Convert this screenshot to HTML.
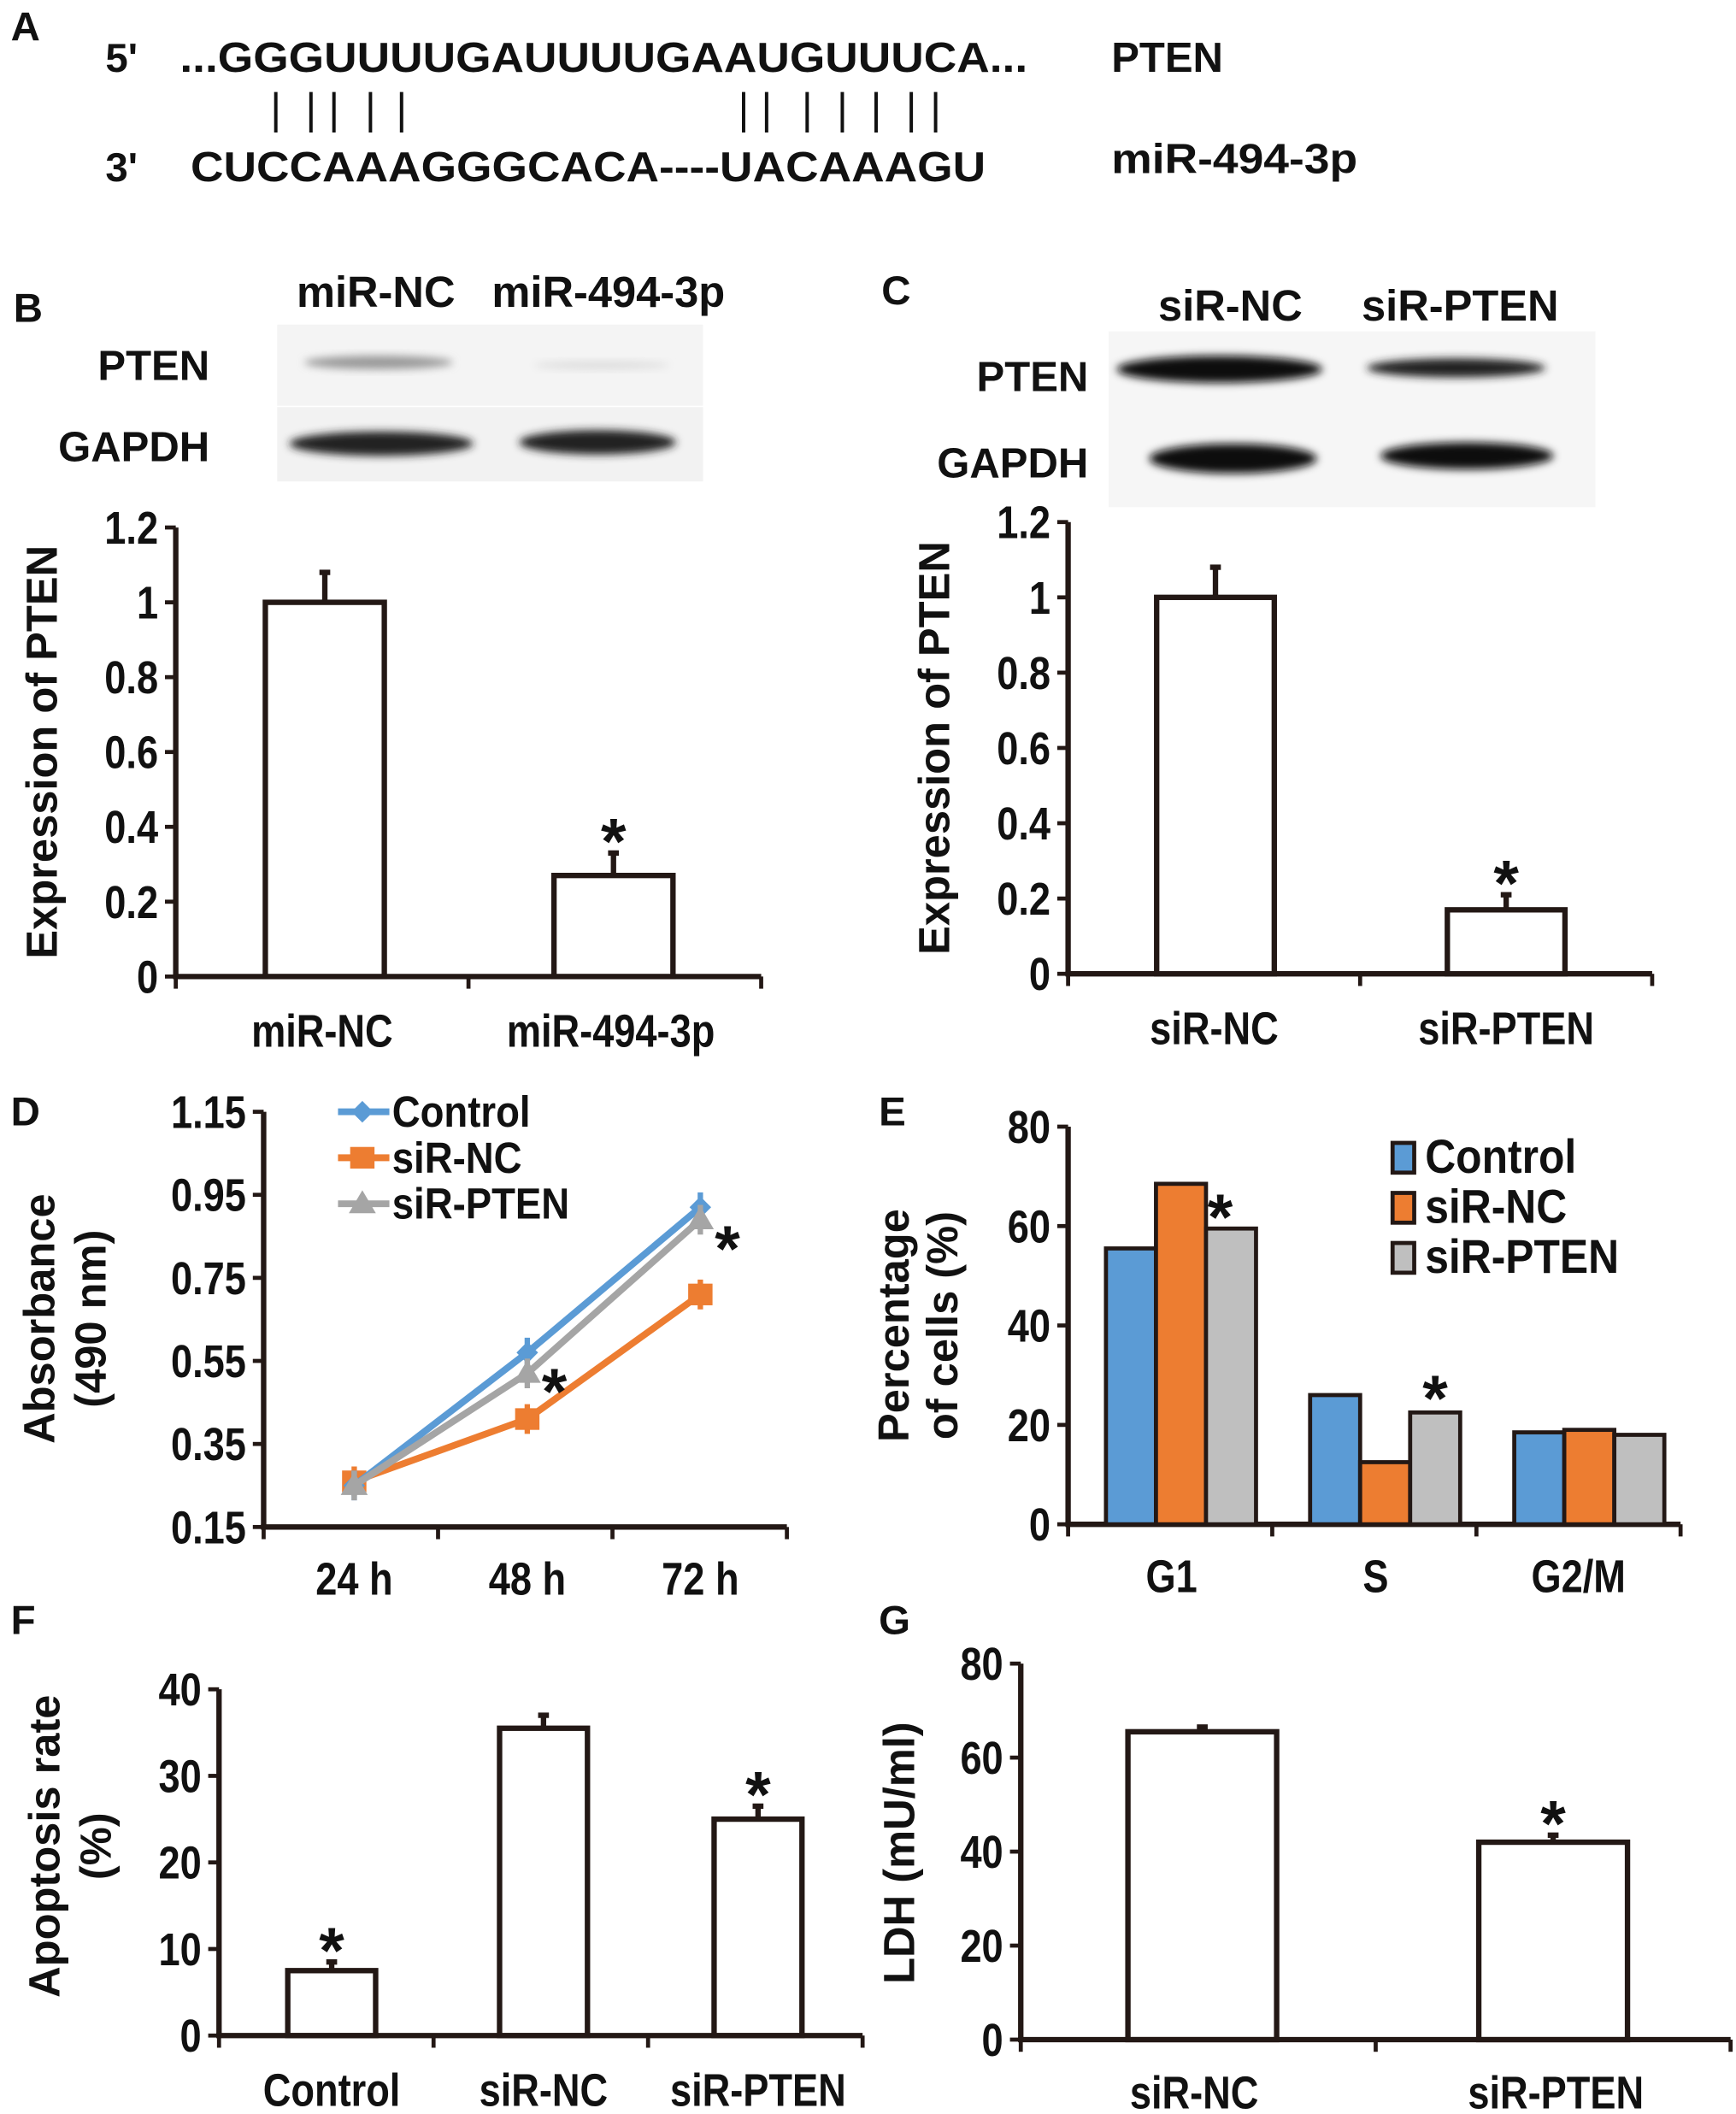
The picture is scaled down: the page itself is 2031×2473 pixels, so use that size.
<!DOCTYPE html>
<html><head><meta charset="utf-8"><style>
html,body{margin:0;padding:0;background:#fff}
svg{display:block}
text{font-family:"Liberation Sans",Arial,sans-serif;font-weight:bold;fill:#111}
</style></head><body>
<svg id="fig" xmlns="http://www.w3.org/2000/svg" width="2031" height="2473" viewBox="0 0 1284 1563" preserveAspectRatio="none">
<defs>
<filter id="blur" x="-20%" y="-50%" width="140%" height="200%"><feGaussianBlur stdDeviation="3"/></filter>
</defs>
<g>
<text x="8" y="30" font-size="30">A</text>
<text x="78" y="53" font-size="30">5'</text>
<text x="133" y="53" font-size="31" textLength="627" lengthAdjust="spacingAndGlyphs">...GGGUUUUGAUUUUGAAUGUUUCA...</text>
<text x="822" y="53" font-size="31">PTEN</text>
<text x="78" y="134" font-size="30">3'</text>
<text x="141" y="134" font-size="31" textLength="588" lengthAdjust="spacingAndGlyphs">CUCCAAAGGGCACA----UACAAAGU</text>
<text x="822" y="128" font-size="31" textLength="182" lengthAdjust="spacingAndGlyphs">miR-494-3p</text>
<g stroke="#111" stroke-width="2.5">
<line x1="204" y1="68" x2="204" y2="98"/><line x1="230" y1="68" x2="230" y2="98"/><line x1="247" y1="68" x2="247" y2="98"/><line x1="274" y1="68" x2="274" y2="98"/><line x1="297" y1="68" x2="297" y2="98"/>
<line x1="550" y1="68" x2="550" y2="98"/><line x1="567" y1="68" x2="567" y2="98"/><line x1="597" y1="68" x2="597" y2="98"/><line x1="623" y1="68" x2="623" y2="98"/><line x1="648" y1="68" x2="648" y2="98"/><line x1="674" y1="68" x2="674" y2="98"/><line x1="692" y1="68" x2="692" y2="98"/>
</g>
</g>
<g>
<text x="10" y="238" font-size="30">B</text>
<text x="278" y="227" font-size="32" text-anchor="middle">miR-NC</text>
<text x="450" y="227" font-size="32" text-anchor="middle">miR-494-3p</text>
<rect x="205" y="240" width="315" height="60" fill="#f4f4f4"/>
<rect x="205" y="301" width="315" height="55" fill="#f2f2f2"/>
<text x="155" y="281" font-size="31" text-anchor="end">PTEN</text>
<text x="155" y="341" font-size="31" text-anchor="end">GAPDH</text>
<ellipse cx="280" cy="268" rx="55" ry="5" fill="#999" filter="url(#blur)"/>
<ellipse cx="445" cy="270" rx="50" ry="3" fill="#ddd" filter="url(#blur)"/>
<ellipse cx="282" cy="328" rx="68" ry="9" fill="#222" filter="url(#blur)"/>
<ellipse cx="442" cy="327" rx="58" ry="9" fill="#222" filter="url(#blur)"/>
</g>
<g>
<text x="652" y="225" font-size="30">C</text>
<text x="910" y="237" font-size="32" text-anchor="middle">siR-NC</text>
<text x="1080" y="237" font-size="32" text-anchor="middle">siR-PTEN</text>
<rect x="820" y="245" width="360" height="130" fill="#f6f6f6"/>
<text x="805" y="289" font-size="31" text-anchor="end">PTEN</text>
<text x="805" y="353" font-size="31" text-anchor="end">GAPDH</text>
<ellipse cx="902" cy="273" rx="76" ry="10" fill="#111" filter="url(#blur)"/>
<ellipse cx="1077" cy="272" rx="66" ry="7" fill="#222" filter="url(#blur)"/>
<ellipse cx="912" cy="339" rx="62" ry="11" fill="#111" filter="url(#blur)"/>
<ellipse cx="1085" cy="337" rx="64" ry="10" fill="#111" filter="url(#blur)"/>
</g>
<g id="charts"></g>
</svg>
<script>
const bCategories = ["miR-NC","miR-494-3p"];
const bValues = [1.0, 0.27];
const bErrors = [0.08, 0.06];
const bStars = [false, true];
const bTicks = ["0","0.2","0.4","0.6","0.8","1","1.2"];

const cCategories = ["siR-NC","siR-PTEN"];
const cValues = [1.0, 0.17];
const cErrors = [0.08, 0.04];
const cStars = [false, true];
const cTicks = ["0","0.2","0.4","0.6","0.8","1","1.2"];

const dCategories = ["24 h","48 h","72 h"];
const dSeriesNames = ["Control","siR-NC","siR-PTEN"];
const dControl = [0.25, 0.57, 0.92];
const dSiNC = [0.26, 0.41, 0.71];
const dSiPTEN = [0.25, 0.52, 0.89];
const dTicks = ["0.15","0.35","0.55","0.75","0.95","1.15"];

const eCategories = ["G1","S","G2/M"];
const eSeriesNames = ["Control","siR-NC","siR-PTEN"];
const eControl = [55.5, 26, 18.5];
const eSiNC = [68.5, 12.5, 19];
const eSiPTEN = [59.5, 22.5, 18];
const eTicks = ["0","20","40","60","80"];

const fCategories = ["Control","siR-NC","siR-PTEN"];
const fValues = [7.5, 35.5, 25];
const fErrors = [1, 1.5, 1.5];
const fStars = [true, false, true];
const fTicks = ["0","10","20","30","40"];

const gCategories = ["siR-NC","siR-PTEN"];
const gValues = [65.5, 42];
const gErrors = [1, 1.5];
const gStars = [false, true];
const gTicks = ["0","20","40","60","80"];

const NS="http://www.w3.org/2000/svg";
const root=document.getElementById('charts');
function mk(tag,attrs,parent,txt){const e=document.createElementNS(NS,tag);for(const k in attrs)e.setAttribute(k,attrs[k]);if(txt!==undefined)e.textContent=txt;(parent||root).appendChild(e);return e;}
function ctext(g,x,y,size,anchor,txt,sx){
  return mk('text',{x:0,y:0,'font-size':size,'text-anchor':anchor,transform:`translate(${x},${y}) scale(${sx||0.84},1)`},g,txt);
}

function axes(g,cfg){
  const ya=mk('line',{x1:cfg.x0,y1:cfg.yTop,x2:cfg.x0,y2:cfg.y0,stroke:'#231815','stroke-width':4},g);
  
  
  const xa=mk('line',{x1:cfg.x0-2,y1:cfg.y0,x2:cfg.x1,y2:cfg.y0,stroke:'#231815','stroke-width':4},g);
  
  
  cfg.ticks.forEach((t,i)=>{
    const v=cfg.min+i*cfg.step, y=cfg.sy(v);
    mk('line',{x1:cfg.x0-8,y1:y,x2:cfg.x0,y2:y,stroke:'#231815','stroke-width':3},g);
    const tl=ctext(g,cfg.x0-13,y+12,34,'end',t);
    
    
  });
  const n=cfg.cats.length;
  for(let i=0;i<=n;i++){const x=cfg.x0+(cfg.x1-cfg.x0)*i/n;mk('line',{x1:x,y1:cfg.y0,x2:x,y2:cfg.y0+9,stroke:'#231815','stroke-width':3},g);}
  cfg.cats.forEach((c,i)=>{
    const xl=ctext(g,cfg.sx(i)+(cfg.loffs?cfg.loffs[i]:0),cfg.labY,34,'middle',c);
    
    
  });
  cfg.title.forEach((t,k)=>{
    const tt=mk('text',{x:0,y:0,'font-size':32,'text-anchor':'middle',transform:`translate(${cfg.titleX[k]},${cfg.titleY}) rotate(-90)`},g,t);
    
    
  });
}

function star(g,x,y,fs){const s=mk('text',{x:x,y:y,'font-size':fs||48,'text-anchor':'middle'},g,'*');
  
  }

function barChart(name,cats,vals,errs,stars,ticks,cfg){
  const g=mk('g',{});
  
  
  cfg.cats=cats;cfg.ticks=ticks;
  cfg.sy=v=>cfg.y0-(v-cfg.min)/(cfg.step*(ticks.length-1))*(cfg.y0-cfg.yTop);
  const n=cats.length;
  cfg.sx=i=>cfg.x0+(cfg.x1-cfg.x0)*(i+0.5)/n;
  axes(g,cfg);
  vals.forEach((v,i)=>{
    const cx=cfg.sx(i)+(cfg.offs?cfg.offs[i]:0),w=cfg.bw,y=cfg.sy(v),ye=cfg.sy(v+errs[i]);
    mk('line',{x1:cx,y1:y,x2:cx,y2:ye,stroke:'#231815','stroke-width':4},g);
    mk('line',{x1:cx-4,y1:ye,x2:cx+4,y2:ye,stroke:'#231815','stroke-width':4},g);
    const r=mk('rect',{x:cx-w/2,y:y,width:w,height:cfg.y0-y,fill:'#fff',stroke:'#231815','stroke-width':4},g);
    
    
    if(stars[i])star(g,cx,ye+8);
  });
  return g;
}

barChart('chart-b',bCategories,bValues,bErrors,bStars,bTicks,{x0:130,x1:563,y0:722,yTop:390,min:0,step:0.2,bw:88,labY:774,title:['Expression of PTEN'],titleX:[42],titleY:556,offs:[2,-1],loffs:[0,-3]});
barChart('chart-c',cCategories,cValues,cErrors,cStars,cTicks,{x0:790,x1:1222,y0:720,yTop:386,min:0,step:0.2,bw:87,labY:772,title:['Expression of PTEN'],titleX:[702],titleY:553,offs:[1,0],loffs:[0,0]});
const gF=barChart('chart-f',fCategories,fValues,fErrors,fStars,fTicks,{x0:162,x1:638,y0:1505,yTop:1249,min:0,step:10,bw:65,labY:1557,title:['Apoptosis rate','(%)'],titleX:[44,82],titleY:1365,offs:[4,2,2],loffs:[4,2,2]});
mk('text',{x:8,y:1208,'font-size':30},gF,'F');
const gG=barChart('chart-g',gCategories,gValues,gErrors,gStars,gTicks,{x0:755,x1:1280,y0:1508,yTop:1230,min:0,step:20,bw:110,labY:1559,title:['LDH (mU/ml)'],titleX:[676],titleY:1370,offs:[3,0],loffs:[-3,2]});
mk('text',{x:650,y:1208,'font-size':30},gG,'G');

(function(){
  const g=mk('g',{});
  
  
  mk('text',{x:8,y:832,'font-size':30},g,'D');
  const cfg={x0:195,x1:582,y0:1129,yTop:822,min:0.15,step:0.2,cats:dCategories,ticks:dTicks,labY:1179,title:['Absorbance','(490 nm)'],titleX:[40,78],titleY:975};
  cfg.sy=v=>cfg.y0-(v-cfg.min)/(cfg.step*(dTicks.length-1))*(cfg.y0-cfg.yTop);
  cfg.sx=i=>262+i*128;
  axes(g,cfg);
  const series=[dControl,dSiNC,dSiPTEN], cols=['#5b9bd5','#ed7d31','#a5a5a5'];
  [1,0,2].forEach(si=>{
    const vals=series[si];
    const pl=mk('polyline',{points:vals.map((v,i)=>cfg.sx(i)+','+cfg.sy(v)).join(' '),fill:'none',stroke:cols[si],'stroke-width':5},g);
    
    
    vals.forEach((v,i)=>{
      const x=cfg.sx(i),y=cfg.sy(v);
      mk('line',{x1:x,y1:y-11,x2:x,y2:y+11,stroke:cols[si],'stroke-width':4},g);
      let m;
      if(si===0)m=mk('polygon',{points:`${x},${y-8} ${x+8},${y} ${x},${y+8} ${x-8},${y}`,fill:cols[si]},g);
      else if(si===1)m=mk('rect',{x:x-9,y:y-8,width:18,height:16,fill:cols[si]},g);
      else m=mk('polygon',{points:`${x},${y-10} ${x+10},${y+7} ${x-10},${y+7}`,fill:cols[si]},g);
      
      
    });
  });
  star(g,cfg.sx(1)+20,cfg.sy(dSiPTEN[1])+30,48);
  star(g,cfg.sx(2)+20,cfg.sy(dSiPTEN[2])+38,48);
  dSeriesNames.forEach((nm,k)=>{
    const y=822+k*34;
    const lg=mk('g',{},g);
    
    
    mk('line',{x1:250,y1:y,x2:288,y2:y,stroke:cols[k],'stroke-width':5},lg);
    if(k===0)mk('polygon',{points:`268,${y-8} 276,${y} 268,${y+8} 260,${y}`,fill:cols[k]},lg);
    else if(k===1)mk('rect',{x:259,y:y-8,width:18,height:16,fill:cols[k]},lg);
    else mk('polygon',{points:`268,${y-10} 278,${y+7} 258,${y+7}`,fill:cols[k]},lg);
    ctext(lg,290,y+11,32,'start',nm,0.9);
  });
})();

(function(){
  const g=mk('g',{});
  
  
  mk('text',{x:650,y:832,'font-size':30},g,'E');
  const cfg={x0:790,x1:1243,y0:1127,yTop:833,min:0,step:20,cats:eCategories,ticks:eTicks,labY:1177,title:['Percentage','of cells (%)'],titleX:[672,708],titleY:980};
  cfg.sy=v=>cfg.y0-(v-cfg.min)/(cfg.step*(eTicks.length-1))*(cfg.y0-cfg.yTop);
  cfg.sx=i=>cfg.x0+(cfg.x1-cfg.x0)*(i+0.5)/3+8;
  cfg.loffs=[-7,-7,-8];
  axes(g,cfg);
  const series=[eControl,eSiNC,eSiPTEN], cols=['#5b9bd5','#ed7d31','#bfbfbf'], bw=37;
  eCategories.forEach((c,i)=>{
    series.forEach((vals,si)=>{
      const x=cfg.sx(i)-1.5*bw+si*bw, y=cfg.sy(vals[i]);
      const r=mk('rect',{x:x,y:y,width:bw,height:cfg.y0-y,fill:cols[si],stroke:'#231815','stroke-width':3},g);
      
      
    });
  });
  star(g,cfg.sx(0)+bw-8,cfg.sy(eSiPTEN[0])+8,48);
  star(g,cfg.sx(1)+bw,cfg.sy(eSiPTEN[1])+6,48);
  eSeriesNames.forEach((nm,k)=>{
    const y=855+k*37;
    const lg=mk('g',{},g);
    
    
    mk('rect',{x:1030,y:y-10,width:16,height:22,fill:cols[k],stroke:'#231815','stroke-width':3},lg);
    ctext(lg,1054,y+12,35,'start',nm,0.9);
  });
})();
</script>
</body></html>
